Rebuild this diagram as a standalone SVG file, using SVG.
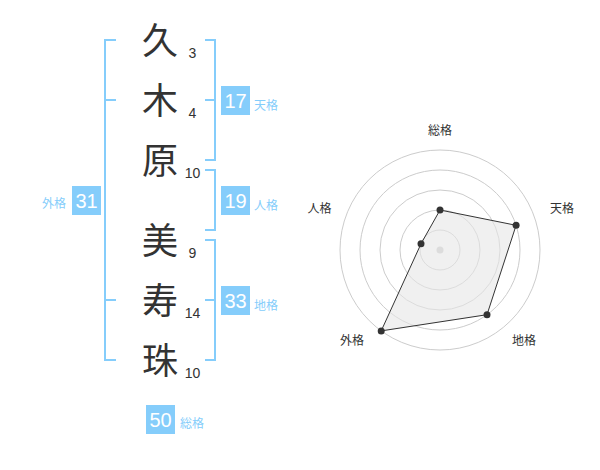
<svg xmlns="http://www.w3.org/2000/svg" width="600" height="470" viewBox="0 0 600 470">
<style>
.kanji{font-family:"Noto Sans CJK JP","Noto Sans CJK SC",sans-serif;font-size:36px;fill:#333;text-anchor:middle}
.stroke{font-family:"Liberation Sans",Arial,sans-serif;font-size:14px;fill:#333;text-anchor:middle}
.br{fill:none;stroke:#85cdfb;stroke-width:2}
.box{fill:#85cdfb}
.bnum{font-family:"Liberation Sans",Arial,sans-serif;font-size:20px;fill:#fff;text-anchor:middle}
.blab{font-family:"Noto Sans CJK JP","Noto Sans CJK SC",sans-serif;font-size:12px;fill:#85cdfb}
.rlab{font-family:"Noto Sans CJK JP","Noto Sans CJK SC",sans-serif;font-size:12px;fill:#333;text-anchor:middle}
.ring{fill:none;stroke:#ccc;stroke-width:1}
.dot{fill:#333}
</style>
<rect width="600" height="470" fill="#fff"/>
<g id="chars">
<text class="kanji" x="160" y="53.5">久</text>
<text class="kanji" x="160" y="113.5">木</text>
<text class="kanji" x="160" y="173.5">原</text>
<text class="kanji" x="160" y="253.5">美</text>
<text class="kanji" x="160" y="313.5">寿</text>
<text class="kanji" x="160" y="373.5">珠</text>
<text class="stroke" x="192.5" y="58">3</text>
<text class="stroke" x="192.5" y="118">4</text>
<text class="stroke" x="192.5" y="178">10</text>
<text class="stroke" x="192.5" y="258">9</text>
<text class="stroke" x="192.5" y="318">14</text>
<text class="stroke" x="192.5" y="378">10</text>
</g>
<g id="connectors">
<path class="br" d="M116 40H105V360H116M105 100H116M105 300H116"/>
<path class="br" d="M205 40H215V160H205M215 100H205"/>
<path class="br" d="M205 170H215V230H205"/>
<path class="br" d="M205 240H215V360H205M215 300H205"/>
</g>
<g id="tenkaku">
<rect class="box" x="221" y="86" width="29" height="29"/>
<text class="bnum" x="235.5" y="107.5">17</text>
<text class="blab" x="254" y="109.5">天格</text>
</g>
<g id="jinkaku">
<rect class="box" x="221" y="186" width="29" height="29"/>
<text class="bnum" x="235.5" y="207.5">19</text>
<text class="blab" x="254" y="209.5">人格</text>
</g>
<g id="chikaku">
<rect class="box" x="221" y="286" width="29" height="29"/>
<text class="bnum" x="235.5" y="307.5">33</text>
<text class="blab" x="254" y="309.5">地格</text>
</g>
<g id="gaikaku">
<rect class="box" x="72" y="186" width="29" height="29"/>
<text class="bnum" x="86.5" y="207.5">31</text>
<text class="blab" x="66" y="208" text-anchor="end">外格</text>
</g>
<g id="soukaku">
<rect class="box" x="146" y="405" width="29" height="29"/>
<text class="bnum" x="160.5" y="426.5">50</text>
<text class="blab" x="180" y="428">総格</text>
</g>
<g id="radar">
<circle class="ring" cx="440" cy="250" r="20"/>
<circle class="ring" cx="440" cy="250" r="40"/>
<circle class="ring" cx="440" cy="250" r="60"/>
<circle class="ring" cx="440" cy="250" r="80"/>
<circle class="ring" cx="440" cy="250" r="100"/>
<circle cx="440" cy="250" r="3.5" fill="#ccc"/>
<polygon points="440,210 516.1,225.3 487,314.7 381.2,330.9 421,243.8" fill="#e6e6e6" fill-opacity="0.6" stroke="#333" stroke-width="1"/>
<circle class="dot" cx="440" cy="210" r="3.5"/>
<circle class="dot" cx="516.1" cy="225.3" r="3.5"/>
<circle class="dot" cx="487" cy="314.7" r="3.5"/>
<circle class="dot" cx="381.2" cy="330.9" r="3.5"/>
<circle class="dot" cx="421" cy="243.8" r="3.5"/>
<text class="rlab" x="440" y="134.5">総格</text>
<text class="rlab" x="562" y="212.5">天格</text>
<text class="rlab" x="524" y="345">地格</text>
<text class="rlab" x="352" y="345">外格</text>
<text class="rlab" x="319.5" y="212.5">人格</text>
</g>
</svg>
